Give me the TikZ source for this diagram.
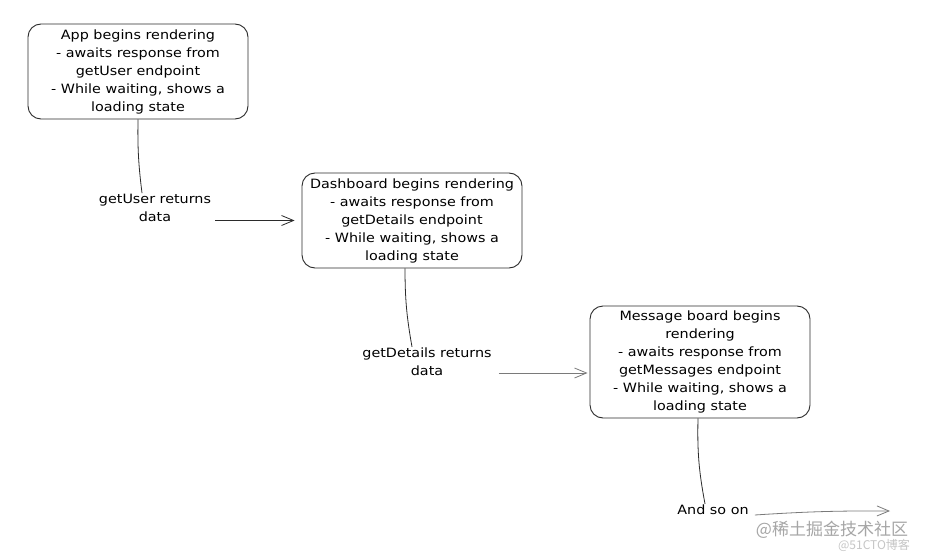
\documentclass[tikz,border=0pt]{standalone}
\usepackage{fontspec}
\setmainfont[FakeStretch=1.12]{DejaVu Sans}
\newfontfamily\cjk{Noto Sans CJK SC}
\usetikzlibrary{arrows.meta}
\definecolor{ink}{HTML}{2B2B2B}
\definecolor{inkgray}{HTML}{7A7A7A}
\tikzset{
  stagebox/.style={draw=ink, line width=0.9pt, rounded corners=13pt, minimum width=220pt, align=center, font=\fontsize{12.8}{18}\selectfont, inner sep=2pt},
  steplabel/.style={align=center, font=\fontsize{12.8}{18}\selectfont, inner sep=1pt},
  link/.style={draw=ink, line width=0.8pt},
  flow/.style={link, -{Straight Barb[length=12pt,width=10pt]}}
}
\begin{document}
\begin{tikzpicture}[x=1pt, y=-1pt]
            \useasboundingbox [fill=white] (0,0) rectangle (928,559);
            \node [stagebox, minimum height=95pt] (app) at (138,71.5) {App begins rendering\\- awaits response from\\getUser endpoint\\- While waiting, shows a\\loading state};
            \node [stagebox, minimum height=95pt] (dash) at (412,220.5) {Dashboard begins rendering\\- awaits response from\\getDetails endpoint\\- While waiting, shows a\\loading state};
            \node [stagebox, minimum height=112pt] (board) at (700,362) {Message board begins\\rendering\\- awaits response from\\getMessages endpoint\\- While waiting, shows a\\loading state};
            \node [steplabel] (user) at (155,208) {getUser returns\\data};
            \node [steplabel] (details) at (427,362) {getDetails returns\\data};
            \node [steplabel] (soon) at (713,510) {And so on};
            \coordinate (next) at (890,511);
            \draw [link] (app.south) to[bend right=4] ([xshift=-13pt]user.north);
            \draw [link] ([xshift=-7pt]dash.south) to[bend right=5] ([xshift=-15pt]details.north);
            \draw [link] ([xshift=-2pt]board.south) to[bend right=6] ([xshift=-8pt]soon.north);
            \draw [flow] ([xshift=3pt]user.east |- dash.west) -- ([xshift=-7pt]dash.west);
            \draw [flow, draw=inkgray] ([xshift=6pt,yshift=-11pt]details.east) -- ([xshift=-2pt,yshift=-11pt]details.east -| board.west);
            \draw [flow, draw=inkgray] ([xshift=5pt,yshift=-5pt]soon.east) to[bend left=2] (next);
            \node [text=gray!70, font=\cjk\fontsize{17}{17}\selectfont] (mark) at (832,530) {@稀土掘金技术社区};
            \node [text=gray!45, font=\cjk\fontsize{12}{12}\selectfont] (blog) at (874,545) {@51CTO博客};
        \end{tikzpicture}
\end{document}
